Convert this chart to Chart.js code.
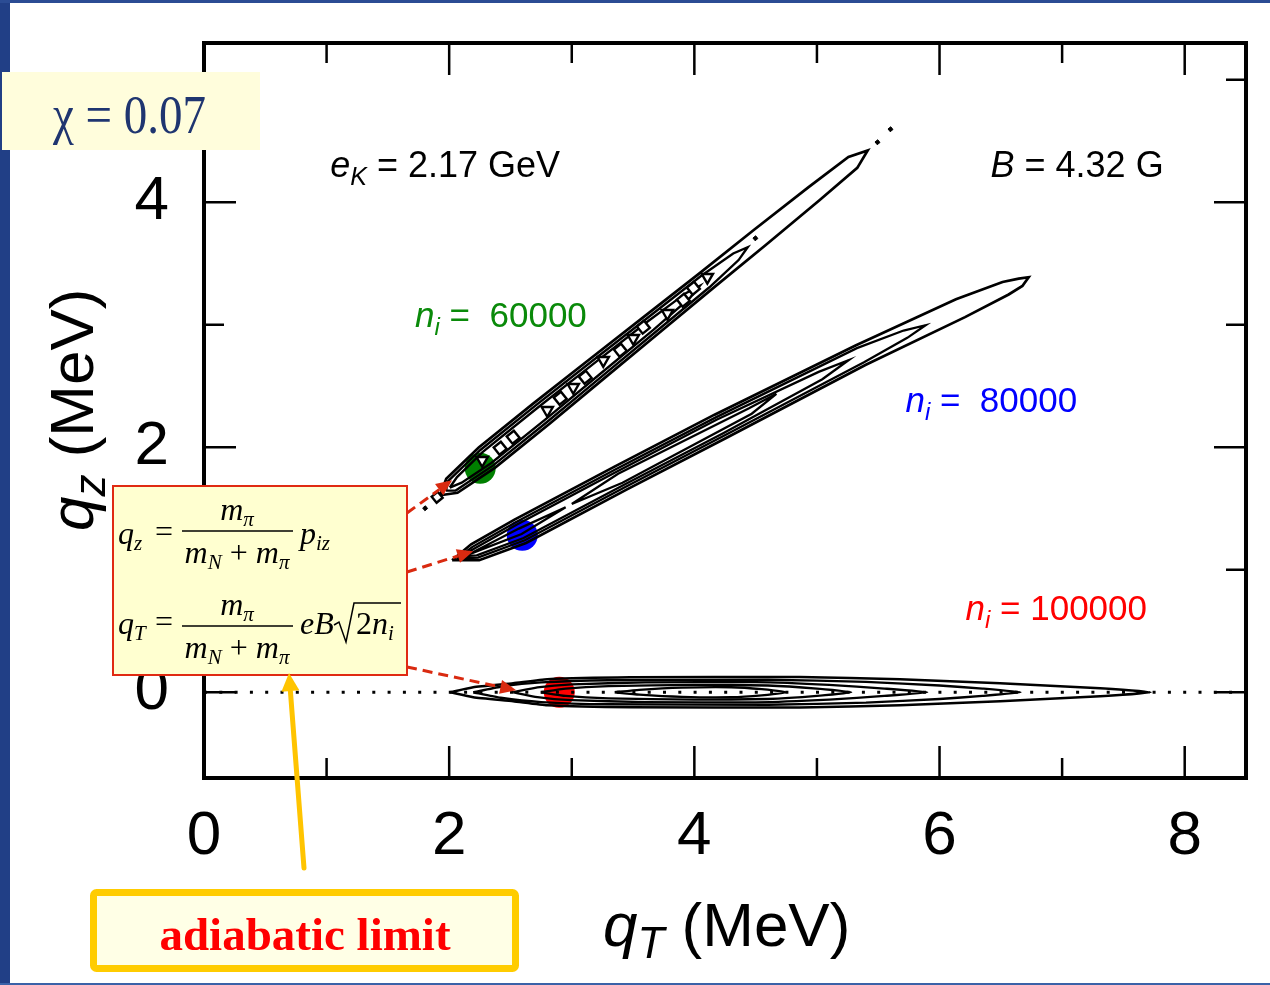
<!DOCTYPE html>
<html>
<head>
<meta charset="utf-8">
<title>qT - qz contours</title>
<script src="https://cdn.jsdelivr.net/npm/chart.js"></script>
<style>
  html, body { margin: 0; padding: 0; background: #fff; }
  #wrap { position: relative; width: 1270px; height: 985px; }
</style>
</head>
<body>
<div id="wrap"><canvas id="chart" width="1270" height="985"></canvas></div>
<script>
// axis ranges and tick positions (MeV)
const qTRange = [0, 8.5];
const qzRange = [-0.7, 5.3];
const qTTicks = [0, 1, 2, 3, 4, 5, 6, 7, 8];
const qzTicks = [0, 1, 2, 3, 4, 5];

// n_i = 60000 contours, [qT, qz] closed loops
const ni60000Loops = [
  [[1.927,1.608],[1.976,1.742],[2.241,1.998],[2.685,2.356],[3.135,2.710],[3.585,3.062],[4.036,3.415],[4.482,3.771],[4.932,4.123],[5.257,4.369],[5.414,4.423],[5.329,4.281],[5.018,4.015],[4.580,3.649],[4.138,3.287],[3.699,2.922],[3.259,2.558],[2.819,2.192],[2.375,1.834],[2.068,1.628],[1.927,1.608]],
  [[1.974,1.646],[1.991,1.723],[2.257,1.980],[2.701,2.338],[3.151,2.692],[3.601,3.043],[4.051,3.396],[4.317,3.582],[4.435,3.633],[4.361,3.528],[4.123,3.306],[3.683,2.941],[3.243,2.576],[2.803,2.210],[2.359,1.852],[2.053,1.647],[1.974,1.646]],
  [[2.005,1.671],[2.064,1.757],[2.272,1.960],[2.716,2.318],[3.166,2.672],[3.616,3.024],[3.934,3.260],[4.043,3.316],[3.966,3.222],[3.668,2.960],[3.228,2.596],[2.788,2.230],[2.344,1.872],[2.102,1.711],[2.005,1.671]]
];
// small closed contours inside the n_i = 60000 ridge
const ni60000Squares = [[2.416,1.992],[2.522,2.082],[2.906,2.400],[3.110,2.571],[3.396,2.792],[3.584,2.980],[3.910,3.200],[3.992,3.298]];
const ni60000Triangles = [[2.269,1.894],[2.800,2.302],[3.012,2.490],[3.257,2.710],[3.502,2.890],[3.780,3.094],[4.106,3.388]];
const ni60000Dots = [[1.804,1.502],[4.498,3.706],[5.494,4.490],[5.600,4.596]];
const ni60000Open = [[1.902,1.592]];

// n_i = 80000 contours
const ni80000Loops = [
  [[2.024,1.078],[2.179,1.208],[2.533,1.409],[3.349,1.842],[4.165,2.266],[5.315,2.831],[6.134,3.208],[6.514,3.349],[6.646,3.377],[6.727,3.388],[6.676,3.317],[6.564,3.247],[6.208,3.062],[5.395,2.671],[4.259,2.076],[3.443,1.652],[2.627,1.219],[2.245,1.078],[2.024,1.078]],
  [[2.06,1.09],[2.190,1.187],[2.543,1.387],[3.359,1.820],[4.175,2.244],[5.326,2.809],[5.707,2.953],[5.886,2.996],[5.737,2.893],[5.384,2.693],[4.249,2.098],[3.433,1.674],[2.617,1.241],[2.234,1.099],[2.06,1.09]],
  [[2.10,1.11],[2.199,1.169],[2.553,1.369],[3.369,1.802],[4.185,2.226],[5.014,2.615],[5.257,2.710],[5.044,2.555],[4.239,2.116],[3.423,1.692],[2.607,1.259],[2.225,1.117],[2.10,1.11]],
  [[3.0,1.537],[3.378,1.784],[4.446,2.318],[4.669,2.436],[4.468,2.274],[3.414,1.710],[3.0,1.537]],
  [[2.15,1.121],[2.569,1.336],[2.95,1.51],[2.591,1.292],[2.15,1.121]]
];

// n_i = 100000 contours
const ni100000Loops = [
  [[2.008,0],[2.196,0.041],[2.522,0.073],[2.80,0.106],[3.478,0.122],[4.861,0.124],[5.678,0.106],[6.494,0.073],[7.310,0.033],[7.722,0],[7.310,-0.033],[6.494,-0.073],[5.678,-0.106],[4.861,-0.124],[3.478,-0.122],[2.80,-0.106],[2.522,-0.073],[2.196,-0.041],[2.008,0]],
  [[2.196,0],[2.42,0.045],[2.75,0.08],[3.3,0.098],[4.6,0.102],[5.4,0.085],[6.0,0.055],[6.35,0.03],[6.661,0],[6.35,-0.03],[6.0,-0.055],[5.4,-0.085],[4.6,-0.102],[3.3,-0.098],[2.75,-0.08],[2.42,-0.045],[2.196,0]],
  [[2.522,0],[2.72,0.04],[3.0,0.065],[3.6,0.08],[4.5,0.082],[5.1,0.06],[5.55,0.03],[5.90,0],[5.55,-0.03],[5.1,-0.06],[4.5,-0.082],[3.6,-0.08],[3.0,-0.065],[2.72,-0.04],[2.522,0]],
  [[2.75,0],[2.95,0.03],[3.3,0.05],[4.0,0.061],[4.6,0.055],[5.0,0.03],[5.28,0],[5.0,-0.03],[4.6,-0.055],[4.0,-0.061],[3.3,-0.05],[2.95,-0.03],[2.75,0]],
  [[3.35,0],[3.55,0.02],[3.9,0.038],[4.3,0.041],[4.55,0.025],[4.75,0],[4.55,-0.025],[4.3,-0.041],[3.9,-0.038],[3.55,-0.02],[3.35,0]]
];
const adiabaticLine = [[0,0],[8.5,0]];

// adiabatic-limit points for each n_i
const limitPoints = [[2.253,1.829],[2.596,1.282],[2.898,0]];
const limitColors = ['#007f00', '#0000ff', '#ff0000'];
// where the red arrows land
const arrowTargets = [[2.024,1.731],[2.196,1.151],[2.547,0.016]];

const sans = '"Liberation Sans", Arial, sans-serif';
const serif = '"Liberation Serif", "Times New Roman", serif';

const toPts = arr => arr.map(p => ({x: p[0], y: p[1]}));

function loopSet(loop, width, tension) {
    return {
        data: toPts(loop), showLine: true, borderColor: '#000', borderWidth: width,
        pointRadius: 0, fill: false, tension: tension || 0, order: 1
    };
}

const datasets = [];
ni60000Loops.forEach((l, i) => datasets.push(loopSet(l, i ? 2.4 : 2.7)));
ni80000Loops.forEach((l, i) => datasets.push(loopSet(l, i ? 2.3 : 2.7)));
ni100000Loops.forEach((l, i) => datasets.push(loopSet(l, i ? 2.3 : 2.6, 0.15)));
datasets.push({ data: toPts(ni60000Squares), pointStyle: 'rect', rotation: -39, pointRadius: 6.5,
    borderColor: '#000', borderWidth: 2.4, backgroundColor: '#fff', order: 0 });
datasets.push({ data: toPts(ni60000Triangles), pointStyle: 'triangle', rotation: 180, pointRadius: 6.5,
    borderColor: '#000', borderWidth: 2.4, backgroundColor: '#fff', order: 0 });
datasets.push({ data: toPts(ni60000Open), pointStyle: 'rect', rotation: -39, pointRadius: 5.5,
    borderColor: '#000', borderWidth: 2.4, backgroundColor: '#fff', order: 0 });
datasets.push({ data: toPts(ni60000Dots), pointStyle: 'rect', rotation: -39, pointRadius: 2.5,
    borderColor: '#000', borderWidth: 1, backgroundColor: '#000', order: 0 });
datasets.push({ data: toPts(adiabaticLine), showLine: true, borderColor: '#000', borderWidth: 3,
    borderDash: [3, 12.3], pointRadius: 0, order: 5 });
datasets.push({ data: toPts(limitPoints), pointRadius: 15.5, pointStyle: 'circle', borderWidth: 0,
    backgroundColor: limitColors, order: 10 });

function runs(ctx, x, y, parts, color) {
    ctx.fillStyle = color;
    ctx.textAlign = 'left';
    ctx.textBaseline = 'alphabetic';
    for (const [text, font, dy] of parts) {
        ctx.font = font;
        ctx.fillText(text, x, y + (dy || 0));
        x += ctx.measureText(text).width;
    }
    return x;
}
function runsWidth(ctx, parts) {
    let w = 0;
    for (const [text, font] of parts) { ctx.font = font; w += ctx.measureText(text).width; }
    return w;
}

function arrow(ctx, x0, y0, x1, y1, color, width, dash, head, half) {
    const a = Math.atan2(y1 - y0, x1 - x0);
    const bx = x1 - head * Math.cos(a), by = y1 - head * Math.sin(a);
    ctx.save();
    ctx.strokeStyle = color; ctx.fillStyle = color; ctx.lineWidth = width;
    ctx.setLineDash(dash); ctx.lineCap = dash.length ? 'butt' : 'round';
    ctx.beginPath(); ctx.moveTo(x0, y0); ctx.lineTo(bx, by); ctx.stroke();
    ctx.setLineDash([]);
    ctx.beginPath();
    ctx.moveTo(x1, y1);
    ctx.lineTo(bx + half * Math.sin(a), by - half * Math.cos(a));
    ctx.lineTo(bx - half * Math.sin(a), by + half * Math.cos(a));
    ctx.closePath(); ctx.fill();
    ctx.restore();
}

// fraction m_pi / (m_N + m_pi) centred on cx, bar at barY
function fraction(ctx, cx, barY) {
    const it = 'italic 32px ' + serif, sub = 'italic 21px ' + serif, rm = '32px ' + serif;
    const num = [['m', it], ['\u03c0', sub, 6]];
    const den = [['m', it], ['N', sub, 6], [' + ', rm], ['m', it], ['\u03c0', sub, 6]];
    runs(ctx, cx - runsWidth(ctx, num) / 2, barY - 11, num, '#000');
    runs(ctx, cx - runsWidth(ctx, den) / 2, barY + 32, den, '#000');
    ctx.save(); ctx.strokeStyle = '#000'; ctx.lineWidth = 1.5;
    ctx.beginPath(); ctx.moveTo(cx - 55, barY); ctx.lineTo(cx + 56, barY); ctx.stroke();
    ctx.restore();
}

const overlay = {
    id: 'overlay',
    beforeDraw(chart) {
        const ctx = chart.ctx;
        ctx.save();
        ctx.fillStyle = '#fff'; ctx.fillRect(0, 0, chart.width, chart.height);
        ctx.fillStyle = '#213f86'; ctx.fillRect(0, 0, 10, chart.height);
        ctx.fillStyle = '#2b4c94'; ctx.fillRect(0, 0, chart.width, 3);
        ctx.fillStyle = '#3a62a8'; ctx.fillRect(0, 983, chart.width, 2);
        ctx.restore();
    },
    afterDraw(chart) {
        const {ctx, chartArea: a, scales: {x, y}} = chart;
        ctx.save();
        // frame with inward ticks
        ctx.strokeStyle = '#000';
        ctx.lineWidth = 4;
        ctx.strokeRect(a.left, a.top, a.right - a.left, a.bottom - a.top);
        ctx.lineWidth = 2.5;
        ctx.beginPath();
        x.ticks.forEach(t => {
            const px = x.getPixelForValue(t.value), len = t.value % 2 ? 20 : 32;
            ctx.moveTo(px, a.bottom); ctx.lineTo(px, a.bottom - len);
            ctx.moveTo(px, a.top); ctx.lineTo(px, a.top + len);
        });
        y.ticks.forEach(t => {
            const py = y.getPixelForValue(t.value), len = t.value % 2 ? 20 : 32;
            ctx.moveTo(a.left, py); ctx.lineTo(a.left + len, py);
            ctx.moveTo(a.right, py); ctx.lineTo(a.right - len, py);
        });
        ctx.stroke();

        // axis titles
        runs(ctx, 603, 946, [['q', 'italic 62px ' + sans], ['T', 'italic 44px ' + sans, 12], [' (MeV)', '62px ' + sans]], '#000');
        ctx.save();
        ctx.translate(93, 531);
        ctx.rotate(-Math.PI / 2);
        runs(ctx, 0, 0, [['q', 'italic 62px ' + sans], ['z', 'italic 44px ' + sans, 12], [' (MeV)', '62px ' + sans]], '#000');
        ctx.restore();

        // labels inside the plot
        const at = (vx, vy) => [x.getPixelForValue(vx), y.getPixelForValue(vy)];
        let p = at(1.03, 4.204);
        runs(ctx, p[0], p[1], [['e', 'italic 36px ' + sans], ['K', 'italic 25px ' + sans, 8], [' = 2.17 GeV', '36px ' + sans]], '#000');
        p = at(6.416, 4.204);
        runs(ctx, p[0], p[1], [['B', 'italic 36px ' + sans], [' = 4.32 G', '36px ' + sans]], '#000');
        const ni = (vx, vy, txt, col) => {
            const q = at(vx, vy);
            runs(ctx, q[0], q[1], [['n', 'italic 35px ' + sans], ['i', 'italic 24px ' + sans, 8], [txt, '35px ' + sans]], col);
        };
        ni(1.722, 2.980, ' =  60000', '#0a8a0a');
        ni(5.722, 2.286, ' =  80000', '#0000ff');
        ni(6.212, 0.588, ' = 100000', '#ff0000');

        // red dashed arrows from the formula box
        const starts = [[407, 513], [407, 572], [407, 667]];
        arrowTargets.forEach((t, i) => {
            const q = at(t[0], t[1]);
            arrow(ctx, starts[i][0], starts[i][1], q[0], q[1], '#d92a10', 3, [10, 6], 16, 7);
        });

        // chi box
        ctx.fillStyle = '#fffddc';
        ctx.fillRect(2, 72, 258, 78);
        ctx.save();
        ctx.translate(53, 133);
        ctx.scale(1, 1.18);
        runs(ctx, 0, 0, [['\u03c7', '47px ' + serif], [' = 0.07', '47px ' + serif]], '#1f3570');
        ctx.restore();

        // formula box
        ctx.fillStyle = '#ffffd0';
        ctx.fillRect(113, 486, 294, 189);
        ctx.strokeStyle = '#e02a12'; ctx.lineWidth = 2;
        ctx.strokeRect(113, 486, 294, 189);
        const it = 'italic 32px ' + serif, sub = 'italic 21px ' + serif, rm = '32px ' + serif;
        runs(ctx, 118, 544, [['q', it], ['z', sub, 6]], '#000');
        runs(ctx, 155, 542, [['=', rm]], '#000');
        fraction(ctx, 237, 531);
        runs(ctx, 300, 544, [['p', it], ['iz', sub, 6]], '#000');
        runs(ctx, 118, 634, [['q', it], ['T', sub, 6]], '#000');
        runs(ctx, 155, 632, [['=', rm]], '#000');
        fraction(ctx, 237, 626);
        runs(ctx, 300, 634, [['eB', it]], '#000');
        ctx.strokeStyle = '#000'; ctx.lineWidth = 1.5;
        ctx.beginPath();
        ctx.moveTo(334, 625); ctx.lineTo(339, 622); ctx.lineTo(346, 642); ctx.lineTo(354, 603); ctx.lineTo(401, 603);
        ctx.stroke();
        runs(ctx, 356, 634, [['2', rm], ['n', it], ['i', sub, 6]], '#000');

        // yellow arrow and adiabatic limit box
        arrow(ctx, 304, 868, 289, 673, '#ffc400', 5, [], 18, 9);
        ctx.fillStyle = '#ffffe6';
        ctx.strokeStyle = '#ffcc00'; ctx.lineWidth = 7;
        ctx.beginPath();
        ctx.roundRect(93.5, 892.5, 422, 76, 3);
        ctx.fill(); ctx.stroke();
        ctx.fillStyle = '#ff0000';
        ctx.font = 'bold 47px ' + serif;
        ctx.textAlign = 'center';
        ctx.fillText('adiabatic limit', 305, 950);
        ctx.restore();
    }
};

const tickFont = { family: sans, size: 62 };
const evenOnly = v => v % 2 === 0 ? String(v) : '';

new Chart(document.getElementById('chart').getContext('2d'), {
    type: 'scatter',
    data: { datasets: datasets },
    options: {
        responsive: false,
        animation: false,
        devicePixelRatio: 1,
        events: [],
        layout: { padding: { top: 43, right: 24, left: 0, bottom: 0 } },
        plugins: { legend: { display: false }, tooltip: { enabled: false } },
        scales: {
            x: {
                type: 'linear', min: qTRange[0], max: qTRange[1],
                grid: { display: false, drawTicks: false },
                border: { display: false },
                ticks: { autoSkip: false, maxRotation: 0, padding: 22, color: '#000', font: tickFont, callback: evenOnly },
                afterBuildTicks: s => { s.ticks = qTTicks.map(v => ({ value: v })); },
                afterFit: s => { s.height = 207; s.paddingLeft = 0; s.paddingRight = 0; }
            },
            y: {
                type: 'linear', min: qzRange[0], max: qzRange[1],
                grid: { display: false, drawTicks: false },
                border: { display: false },
                ticks: { autoSkip: false, padding: 35, color: '#000', font: tickFont, callback: evenOnly },
                afterBuildTicks: s => { s.ticks = qzTicks.map(v => ({ value: v })); },
                afterFit: s => { s.width = 204; s.paddingTop = 0; s.paddingBottom = 0; }
            }
        }
    },
    plugins: [overlay]
});
</script>
</body>
</html>
